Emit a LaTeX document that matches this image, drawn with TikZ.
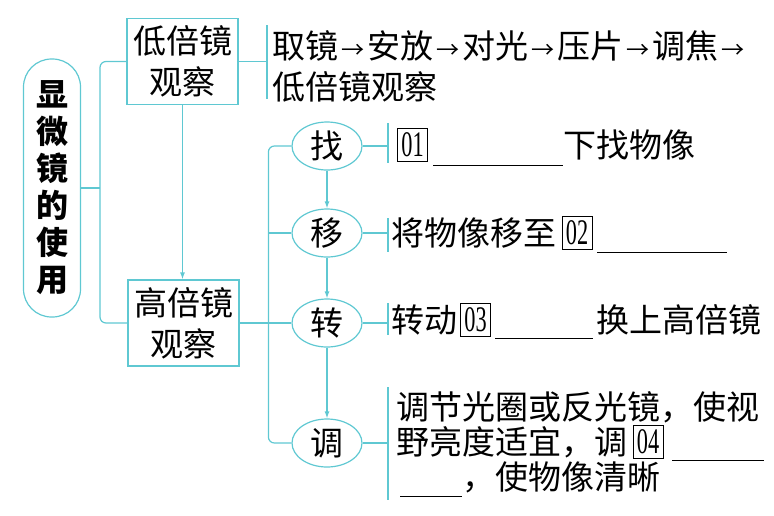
\documentclass[tikz,border=0pt]{standalone}
\usepackage{fontspec}
\setmainfont{Noto Sans CJK SC}
\newfontfamily\numfont{Liberation Serif}
\usetikzlibrary{shapes.geometric,arrows.meta}
\definecolor{cyanline}{RGB}{95,200,210}
\newcommand{\bigtxt}{\fontsize{33}{41}\selectfont}
\newcommand{\numtxt}[1]{\scalebox{0.62}[1]{#1}}
\newcommand{\sarr}{\hbox to 29pt{\hss\scalebox{0.7}{→}\hss}}

\begin{document}
\begin{tikzpicture}[x=1pt,y=-1pt,
  line/.style={cyanline,line width=1.2pt},
  pill/.style={draw=cyanline,line width=1.2pt,rounded corners=28pt,minimum width=57pt,minimum height=258pt,inner sep=0pt,align=center,font=\fontsize{32}{37}\selectfont\bfseries},
  stage/.style={draw=cyanline,line width=1.2pt,minimum width=111pt,minimum height=86pt,inner sep=0pt,align=center,font=\bigtxt},
  verb/.style={draw=cyanline,line width=1.2pt,ellipse,minimum width=70pt,minimum height=48pt,inner sep=0pt,font=\bigtxt},
  txt/.style={font=\bigtxt,inner sep=0pt,anchor=west,align=left},
  numbox/.style={draw,line width=0.8pt,minimum width=30pt,minimum height=33pt,inner sep=0pt,font=\numfont\fontsize{36}{36}\selectfont},
  blank/.style={line width=1pt}]
\useasboundingbox (0,0) rectangle (774,515);

% Title and the two stages
\node[pill] (title) at (52,188) {显\\微\\镜\\的\\使\\用};
\node[stage] (low) at (182.5,61.5) {低倍镜\\观察};
\node[stage] (high) at (183.5,323) {高倍镜\\观察};
\coordinate (lbus) at (100,188);
\draw[line] (title.east) -- (lbus);
\draw[line,rounded corners=6pt] (low.west) -| (lbus) |- (high.west);
\draw[line,-{Latex[length=7pt,width=5pt]}] (low.south) -- (low.south |- high.north);

% Low power steps
\coordinate (lowbr) at (267,61.5);
\draw[line] (low.east) -- (lowbr);
\draw[line] (267,25) -- (267,99);
\node[txt] (steps) at (272,66) {取镜\sarr 安放\sarr 对光\sarr 压片\sarr 调焦\sarr\\低倍镜观察};

% High power steps
\node[verb] (zhao) at (327,146) {找};
\node[verb] (yi) at (327,233) {移};
\node[verb] (zhuan) at (327,323) {转};
\node[verb] (tiao) at (327,443) {调};
\draw[line,rounded corners=6pt] (zhao.west) -- ++(-23,0) |- (tiao.west);
\draw[line] (yi.west) -- ++(-23,0);
\draw[line] (high.east) -- (zhuan.west);
\foreach \a/\b in {zhao/yi,yi/zhuan,zhuan/tiao}
  \draw[line,-{Latex[length=7pt,width=5pt]}] (\a) -- (\b);

% Brackets on the right
\coordinate (rbus) at (388,0);
\foreach \n/\t/\b in {zhao/123/163,yi/218/252,zhuan/303/335,tiao/387/500}{
  \draw[line] (\n.east) -- (\n.east -| rbus);
  \draw[line] (388,\t) -- (388,\b);
}

% Texts with blanks
\node[numbox] (n1) at (412.5,145) {\numtxt{01}};
\draw[blank] (433,165) -- (563,165);
\node[txt] (z1) at (563,145) {下找物像};

\node[txt] (y1) at (391,233) {将物像移至};
\node[numbox] (n2) at (577,233) {\numtxt{02}};
\draw[blank] (597,252) -- (727,252);

\node[txt] (r1) at (391,320) {转动};
\node[numbox] (n3) at (475.5,320) {\numtxt{03}};
\draw[blank] (495,338) -- (593,338);
\node[txt] (r2) at (596,320) {换上高倍镜};

\node[txt] (t1) at (396,407) {调节光圈或反光镜，使视};
\node[txt] (t2) at (396,442) {野亮度适宜，调};
\node[numbox] (n4) at (648,442) {\numtxt{04}};
\draw[blank] (672,460) -- (764,460);
\draw[blank] (400,496) -- (462,496);
\node[txt] (t3) at (462,477) {，使物像清晰};
\end{tikzpicture}
\end{document}
